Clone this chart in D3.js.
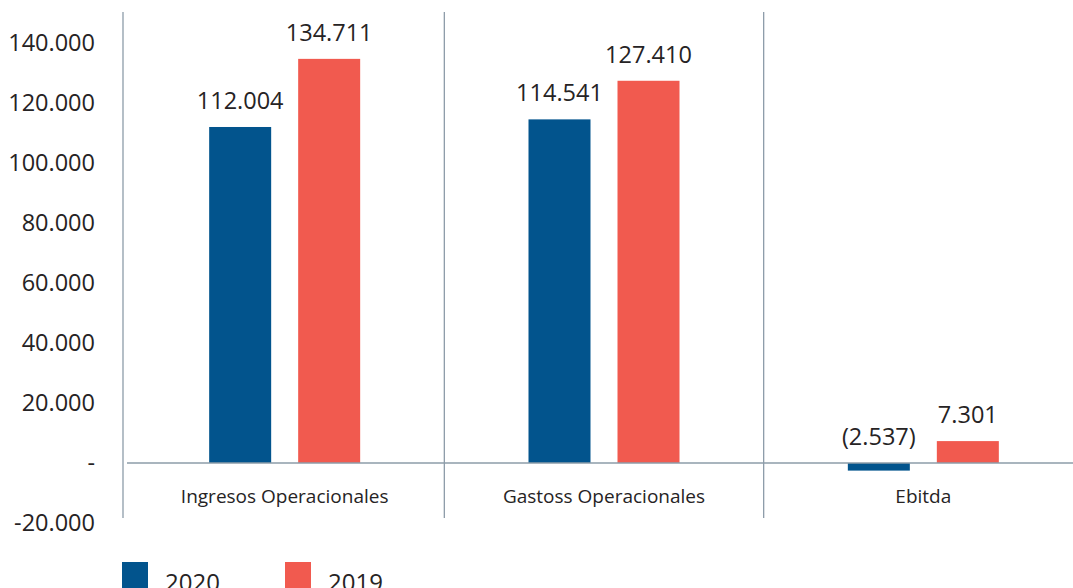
<!DOCTYPE html>
<html>
<head>
<meta charset="utf-8">
<script src="https://cdn.jsdelivr.net/npm/d3@7"></script>
<style>
  body { margin: 0; background: #fff; }
  text { font-family: "Open Sans", "Noto Sans", sans-serif; fill: #262324; }
</style>
</head>
<body>
<svg id="chart"></svg>
<script>
const categories = ["Ingresos Operacionales", "Gastoss Operacionales", "Ebitda"]
const years = ["2020", "2019"]
const values2020 = [112004, 114541, -2537]
const values2019 = [134711, 127410, 7301]
const yTicks = [-20000, 0, 20000, 40000, 60000, 80000, 100000, 120000, 140000]
const colors = {"2020": "#02548d", "2019": "#f15a4f"}

const width = 1073, height = 588

const svg = d3.select("#chart")
              .attr("width", width)
              .attr("height", height)

const x = d3.scaleBand()
            .domain(categories)
            .range([125, 1083])

const y = d3.scaleLinear()
            .domain([-20000, 140000])
            .range([523, 43])

// two bars of 62px with a 27px gap
const xSub = d3.scaleBand()
               .domain(years)
               .range([0, 151])
               .paddingInner(27 / 89)

const num = v => d3.format(",")(Math.abs(v)).replace(/,/g, ".")
const fmtTick = v => v === 0 ? "-" : (v < 0 ? "-" : "") + num(v)
const fmtVal = v => v < 0 ? `(${num(v)})` : num(v)

// y tick labels
svg.append("g")
   .selectAll("text")
   .data(yTicks)
   .join("text")
   .attr("x", 95)
   .attr("y", d => y(d))
   .attr("dy", "0.35em")
   .attr("text-anchor", "end")
   .style("font-size", "23.5px")
   .text(fmtTick)

const lineColor = "#8d9ca9"

// vertical axis + separators
const seps = [x.range()[0] - 2].concat(categories.slice(1).map(c => x(c)))
svg.append("g")
   .selectAll("line")
   .data(seps)
   .join("line")
   .attr("x1", d => d).attr("x2", d => d)
   .attr("y1", 12).attr("y2", 518)
   .attr("stroke", lineColor)
   .attr("stroke-width", 1.3)

// bars
const rows = []
categories.forEach((c, i) => {
  rows.push({cat: c, year: "2020", value: values2020[i]})
  rows.push({cat: c, year: "2019", value: values2019[i]})
})

const groupW = xSub.range()[1]
const barX = d => x(d.cat) + x.bandwidth() / 2 - groupW / 2 + xSub(d.year)

svg.append("g")
   .selectAll("rect")
   .data(rows)
   .join("rect")
   .attr("x", barX)
   .attr("width", xSub.bandwidth())
   .attr("y", d => y(Math.max(0, d.value)))
   .attr("height", d => Math.abs(y(d.value) - y(0)))
   .attr("fill", d => colors[d.year])

// value labels
svg.append("g")
   .selectAll("text")
   .data(rows)
   .join("text")
   .attr("x", d => barX(d) + xSub.bandwidth() / 2)
   .attr("y", d => y(Math.max(0, d.value)) - 18)
   .attr("text-anchor", "middle")
   .style("font-size", "23.5px")
   .text(d => fmtVal(d.value))

// zero line
svg.append("line")
   .attr("x1", 127).attr("x2", width)
   .attr("y1", y(0)).attr("y2", y(0))
   .attr("stroke", lineColor)
   .attr("stroke-width", 1.3)

// category labels
svg.append("g")
   .selectAll("text")
   .data(categories)
   .join("text")
   .attr("x", d => x(d) + x.bandwidth() / 2)
   .attr("y", 503)
   .attr("text-anchor", "middle")
   .style("font-size", "19px")
   .text(d => d)

// legend
const legend = svg.append("g")
                  .selectAll("g")
                  .data(years)
                  .join("g")
                  .attr("transform", (d, i) => `translate(${122 + i * 163}, 562)`)

legend.append("rect")
      .attr("width", 26).attr("height", 30)
      .attr("fill", d => colors[d])

legend.append("text")
      .attr("x", 43)
      .attr("y", 29)
      .style("font-size", "24px")
      .text(d => d)
</script>
</body>
</html>
